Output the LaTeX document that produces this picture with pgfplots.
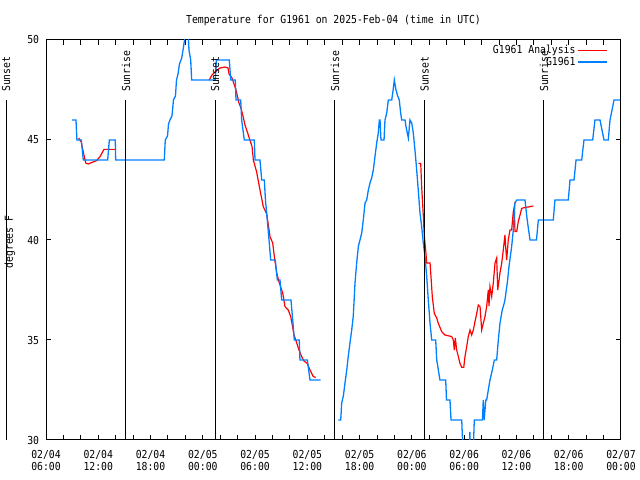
\documentclass[border=0pt]{standalone}
\usepackage{fontspec}
\setmainfont[FakeStretch=0.89]{DejaVu Sans Mono}
\usepackage{pgfplots}
\pgfplotsset{compat=1.18}
\definecolor{obsblue}{RGB}{0,128,255}
\newcommand\gf{\fontsize{11bp}{12.3bp}\selectfont}
\begin{document}
\gf
\begin{tikzpicture}
\useasboundingbox (0,0) rectangle (640bp,480bp);
\begin{axis}[
  at={(46bp,40bp)}, anchor=south west,
  scale only axis, width=575bp, height=400bp,
  xmin=6, xmax=72, ymin=30, ymax=50,
  clip mode=individual,
  unbounded coords=jump,
  axis line style={line width=1bp},
  every tick/.style={black, line width=1bp},
  major tick length=5bp, minor tick length=5bp,
  xtick={6,12,...,72},
  minor xtick={8,10,14,16,20,22,26,28,32,34,38,40,44,46,50,52,56,58,62,64,68,70},
  xticklabels={{02/04\\06:00},{02/04\\12:00},{02/04\\18:00},{02/05\\00:00},{02/05\\06:00},{02/05\\12:00},{02/05\\18:00},{02/06\\00:00},{02/06\\06:00},{02/06\\12:00},{02/06\\18:00},{02/07\\00:00}},
  xticklabel style={align=center, yshift=-6bp},
  ytick={30,35,40,45,50},
  yticklabels={30,35,40,45,50},
  yticklabel style={xshift=-3bp},
  legend plot pos=right,
  legend image code/.code={\draw[#1, line width=1.3bp] (0bp,0bp) -- (29bp,0bp);},
  legend style={draw=none, fill=none, at={(rel axis cs:1,1)}, anchor=north east,
    xshift=-10bp, yshift=-1bp, row sep=-2bp, font=\gf},
  legend cell align=right,
]
\addplot[red, line width=1.2bp] coordinates {
(9.75,45.1)(10.05,44.9)(10.28,44.4)(10.56,43.85)(10.85,43.8)(11.1,43.85)(11.82,43.97)(12.2,44.17)(12.66,44.53)(14.0,44.53)
(14.1,nan)
(24.74,48.0)(25.05,48.25)(25.40,48.4)(25.97,48.6)(26.55,48.65)(26.89,48.6)(27.01,48.3)(27.35,48.1)(27.58,47.8)(27.81,47.5)(28.15,46.85)(28.38,46.6)(28.61,46.2)(28.84,45.75)(29.22,45.25)(29.65,44.67)(29.80,44.0)(30.18,43.4)(30.56,42.5)(30.94,41.67)(31.33,41.3)(31.52,40.75)(31.71,40.17)(32.02,39.85)(32.21,39.17)(32.48,38.35)(32.78,37.85)(33.17,37.35)(33.43,36.67)(33.81,36.5)(34.09,36.17)(34.27,35.75)(34.47,35.25)(34.78,34.85)(35.04,34.5)(35.35,34.17)(35.61,33.95)(35.99,33.83)(36.30,33.5)(36.68,33.17)(36.96,33.13)
(37.0,nan)
(48.73,43.83)(49.01,43.83)(49.12,42.67)(49.31,41.2)(49.42,40.2)(49.58,39.5)(49.70,38.85)(50.08,38.85)(50.19,38.17)(50.34,37.17)(50.57,36.33)(50.85,36.1)(51.03,35.83)(51.42,35.42)(51.80,35.25)(52.57,35.17)(52.75,35.0)(52.87,34.5)(52.98,35.1)(53.14,34.5)(53.33,34.17)(53.52,33.83)(53.72,33.63)(53.95,33.63)(54.09,34.17)(54.29,34.67)(54.47,35.17)(54.67,35.5)(54.86,35.25)(55.05,35.5)(55.24,35.92)(55.44,36.33)(55.62,36.75)(55.82,36.67)(56.01,35.5)(56.19,35.83)(56.39,36.17)(56.58,36.67)(56.77,37.5)(56.85,36.7)(56.96,37.67)(57.16,37.17)(57.34,37.85)(57.54,38.85)(57.73,39.1)(57.85,37.5)(58.11,38.35)(58.31,38.85)(58.49,39.5)(58.68,40.25)(58.76,39.67)(58.88,39)(59.06,40)(59.26,40.5)(59.45,40.5)(59.64,41.42)(59.75,41.67)(59.83,40.42)(60.03,40.42)(60.21,40.92)(60.41,41.25)(60.60,41.58)(60.98,41.63)(61.36,41.65)(61.94,41.7)
};
\addlegendentry{G1961 Analysis}
\addplot[obsblue, line width=1.3bp] coordinates {
(8.98,46)(9.44,46)(9.55,45)(10.05,45)(10.28,44)(13.08,44)(13.27,45)(13.95,45)(14.0,44)(19.58,44)(19.69,45)(19.95,45.2)(20.06,45.8)(20.23,46)(20.46,46.2)(20.63,47)(20.86,47.2)(20.98,48)(21.15,48.3)(21.32,48.8)(21.58,49.1)(21.73,49.5)(21.90,50)(22.01,50.6)(22.30,50.6)(22.41,49.5)(22.61,49)(22.72,48)(25.43,48)(25.55,49)(27.04,49)(27.20,48)(27.73,48)(27.81,47)(28.35,47)(28.46,46)(28.76,45)(29.91,45)(29.99,44)(30.56,44)(30.76,43)(31.06,43)(31.19,42)(31.40,41)(31.60,40)(31.79,39)(32.32,39)(32.55,38)(32.86,38)(33.05,37)(34.12,37)(34.32,36)(34.50,35)(35.07,35)(35.15,34)(36.00,34)(36.30,33)(37.53,33)
(38.0,nan)
(39.55,31)(39.83,31)(39.94,31.85)(40.13,32.2)(40.32,32.85)(40.52,33.5)(40.70,34.2)(40.89,34.85)(41.09,35.5)(41.27,36.2)(41.47,37.85)(41.66,38.85)(41.85,39.67)(42.04,40)(42.24,40.35)(42.42,41)(42.62,41.85)(42.81,42)(43.00,42.5)(43.19,42.85)(43.38,43.1)(43.57,43.5)(43.76,44.17)(43.96,44.85)(44.14,45.35)(44.26,46)(44.34,46)(44.45,45)(44.80,45)(44.91,46)(45.11,46.35)(45.29,47)(45.68,47)(45.80,47.35)(45.98,48)(46.17,47.5)(46.37,47.2)(46.55,47)(46.71,46.35)(46.83,46)(47.21,46)(47.32,45.67)(47.47,45.35)(47.59,45.1)(47.78,46)(47.98,45.85)(48.16,45.35)(48.35,44.5)(48.55,43.5)(48.73,42.5)(48.93,41.35)(49.12,40.67)(49.31,39.85)(49.50,39.17)(49.70,38.17)(49.88,37)(50.08,35.85)(50.27,35)(50.73,35)(50.85,34)(51.22,33)(51.88,33)(51.97,32)(52.37,32)(52.49,31)(53.72,31)(53.90,29)(54.59,29)(54.65,30.4)(54.75,29)(55.01,29)(55.16,31)(56.10,31)(56.19,32)(56.30,31)(56.48,32)(56.58,32)(56.77,32.5)(56.96,33)(57.23,33.5)(57.46,34)(57.73,34)(57.92,35)(58.11,35.85)(58.37,36.5)(58.60,36.85)(58.68,37)(58.99,38)(59.14,38.67)(59.45,39.67)(59.64,40.5)(59.83,41.85)(60.03,42)(60.98,42)(61.18,41.2)(61.36,40.6)(61.56,40)(62.30,40)(62.51,41)(64.23,41)(64.42,42)(65.95,42)(66.15,43)(66.61,43)(66.84,44)(67.49,44)(67.75,45)(68.75,45)(69.01,46)(69.59,46)(70.05,45)(70.54,45)(70.74,46)(71.20,47)(71.89,47)
};
\addlegendentry{G1961}
% sunrise / sunset markers
\foreach \h/\lab in {1.41/Sunset,15.18/Sunrise,25.40/Sunset,39.17/Sunrise,49.47/Sunset,63.16/Sunrise}{
  \edef\tmp{\noexpand\draw[black, line width=1bp] (axis cs:\h,30) -- (axis cs:\h,47);
    \noexpand\node[rotate=90, anchor=west, inner sep=0pt] at (axis cs:\h,47.4) {\lab};}
  \tmp
}
\node[anchor=base] at ([yshift=16bp]rel axis cs:0.5,1) {Temperature for G1961 on 2025-Feb-04 (time in UTC)};
\node[rotate=90, anchor=base] at ([xshift=-33bp,yshift=-2bp]rel axis cs:0,0.5) {degrees F};
\end{axis}
\end{tikzpicture}
\end{document}
